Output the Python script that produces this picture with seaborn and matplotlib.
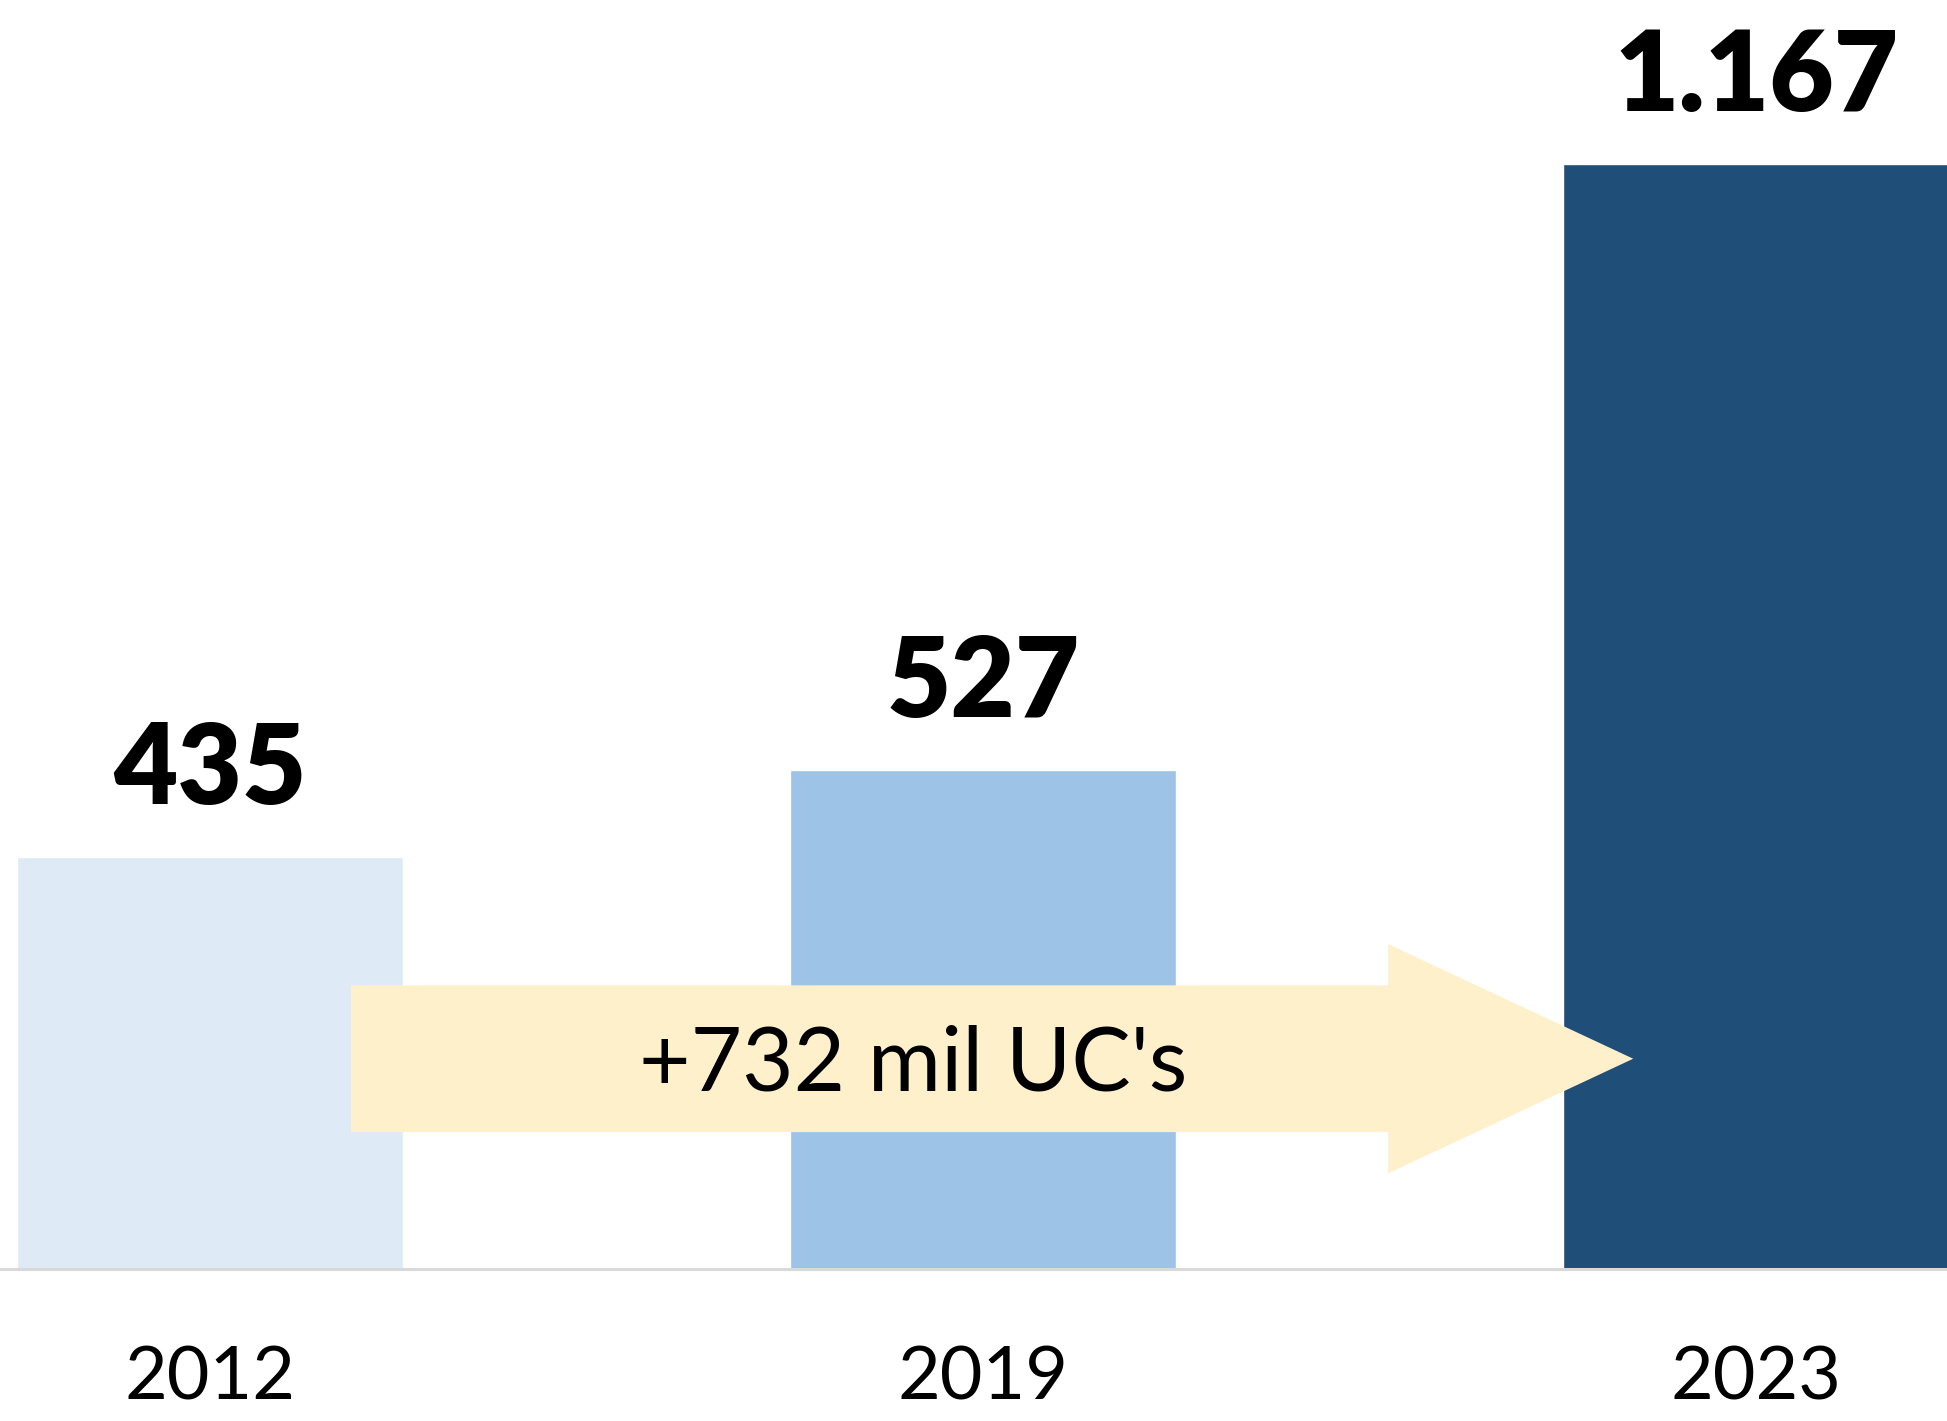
import matplotlib
matplotlib.use("Agg")
import matplotlib.pyplot as plt
import matplotlib.patches as mpatches
import seaborn as sns
import pandas as pd

# data
years = ["2012", "2019", "2023"]
values = [435, 527, 1167]
value_labels = ["435", "527", "1.167"]
bar_colors = ["#DEEAF6", "#9DC3E6", "#1F4E79"]
arrow_text = "+732 mil UC's"

df = pd.DataFrame({"Ano": years, "Valor": values})

sns.set_theme(style="white")
plt.rcParams['font.family'] = ['Lato', 'DejaVu Sans']
plt.rcParams['text.color'] = 'black'
plt.rcParams['xtick.color'] = 'black'

fig = plt.figure(figsize=(19.47, 14.21), dpi=100)
ax = fig.add_axes([0, 0.107, 1, 0.893])

sns.barplot(data=df, x="Ano", y="Valor", hue="Ano", palette=bar_colors,
            width=0.5, saturation=1, legend=False, ax=ax)

ax.set_xlim(-0.272, 2.247)
ax.set_ylim(0, 1340)

# value labels above bars
for cont, lab in zip(ax.containers, value_labels):
    ax.bar_label(cont, labels=[lab], padding=25, fontsize=80, fontweight='heavy',
                 color='black')

# growth arrow from first bar towards last bar
arrow = mpatches.FancyArrow(0.182, 222, 1.659, 0, width=155, head_width=242,
                            head_length=0.317, length_includes_head=True,
                            color="#FFF0CC", linewidth=0, zorder=5)
ax.add_patch(arrow)
ax.text(0.91, 215, arrow_text, fontsize=64, ha='center', va='center',
        color='black', zorder=6)

sns.despine(ax=ax, left=True, top=True, right=True)
ax.spines['bottom'].set_color('#D9D9D9')
ax.spines['bottom'].set_linewidth(2.2)
ax.set_yticks([])
ax.set_xlabel("")
ax.set_ylabel("")
ax.tick_params(axis='x', length=0, pad=55, labelsize=53, labelcolor='black')

fig.savefig("out.png", dpi=100)
